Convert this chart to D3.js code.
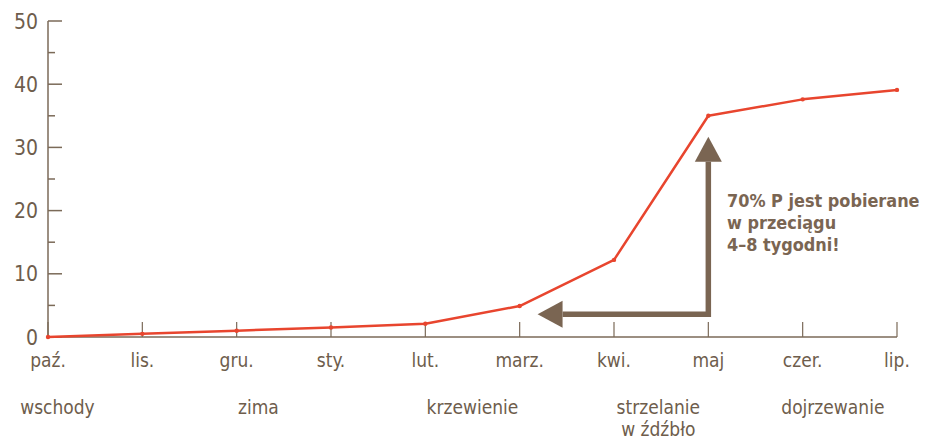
<!DOCTYPE html>
<html><head><meta charset="utf-8">
<script src="https://cdn.jsdelivr.net/npm/d3@7"></script>
<style>
html,body{margin:0;padding:0;background:#fff;}
svg{display:block;}
text{font-family:"Liberation Sans Narrow","DejaVu Sans Condensed","Roboto",sans-serif;}
</style></head>
<body><svg id="c" width="944" height="439"></svg>
<script>
const months = ["paź.","lis.","gru.","sty.","lut.","marz.","kwi.","maj","czer.","lip."];
const uptake = [0, 0.5, 1.0, 1.5, 2.1, 4.9, 12.2, 35.0, 37.6, 39.1];
const yTicks = [0, 10, 20, 30, 40, 50];
const yMinorTicks = [5, 15, 25, 35, 45];
const stages = [
  {lines:["wschody"], at:0.1},
  {lines:["zima"], at:2.23},
  {lines:["krzewienie"], at:4.5},
  {lines:["strzelanie","w źdźbło"], at:6.47},
  {lines:["dojrzewanie"], at:8.32}
];
const noteLines = ["70% P jest pobierane","w przeciągu","4–8 tygodni!"];
const arrowFrom = {month:7, value:3.6}; // corner of arrow in data units
const arrowUpTo = 31.7;
const arrowLeftTo = 5.19;

const axisCol = "#7b6a58", textCol = "#6e5d4c", lineCol = "#e8452e", arrowCol = "#7a6552";
const svg = d3.select("#c");
const x = d3.scaleLinear().domain([0, months.length-1]).range([48, 897]);
const y = d3.scaleLinear().domain([0, 50]).range([337, 21]);

// y axis
const yAxis = svg.append("g");
yAxis.append("line").attr("x1",48).attr("x2",48).attr("y1",y(50)).attr("y2",y(0)).attr("stroke",axisCol).attr("stroke-width",1.5);
yAxis.selectAll(".maj").data(yTicks).join("line").attr("x1",48).attr("x2",62).attr("y1",d=>y(d)).attr("y2",d=>y(d)).attr("stroke",axisCol).attr("stroke-width",1.5);
yAxis.selectAll(".min").data(yMinorTicks).join("line").attr("x1",48).attr("x2",55).attr("y1",d=>y(d)).attr("y2",d=>y(d)).attr("stroke",axisCol).attr("stroke-width",1.5);
yAxis.selectAll("text").data(yTicks).join("text").attr("x",38).attr("y",d=>y(d)).attr("dy","0.36em")
  .attr("text-anchor","end").attr("fill",textCol).attr("font-size",21).text(d=>d);

// x axis
const xAxis = svg.append("g");
xAxis.append("line").attr("x1",x(0)).attr("x2",x(months.length-1)).attr("y1",y(0)).attr("y2",y(0)).attr("stroke",axisCol).attr("stroke-width",1.5);
xAxis.selectAll(".t").data(months).join("line").attr("x1",(d,i)=>x(i)).attr("x2",(d,i)=>x(i)).attr("y1",y(0)-15).attr("y2",y(0)).attr("stroke",axisCol).attr("stroke-width",1.2);
xAxis.selectAll("text").data(months).join("text").attr("x",(d,i)=>x(i)).attr("y",367)
  .attr("text-anchor","middle").attr("fill",textCol).attr("font-size",19).text(d=>d);

// stages
stages.forEach(s=>{
  s.lines.forEach((l,j)=>{
    svg.append("text").attr("x",x(s.at)).attr("y",414+j*22).attr("text-anchor","middle")
      .attr("fill",textCol).attr("font-size",19).text(l);
  });
});

// line
const line = d3.line().x((d,i)=>x(i)).y(d=>y(d));
svg.append("path").datum(uptake).attr("d",line).attr("fill","none").attr("stroke",lineCol).attr("stroke-width",2.5).attr("stroke-linejoin","round");
svg.selectAll(".pt").data(uptake).join("circle").attr("cx",(d,i)=>x(i)).attr("cy",d=>y(d)).attr("r",2.2).attr("fill",lineCol);

// arrow
const cx = x(arrowFrom.month), cy = y(arrowFrom.value);
const topY = y(arrowUpTo), leftX = x(arrowLeftTo);
const hw = 13.5, hl = 25;
svg.append("path").attr("d",`M${leftX+hl},${cy} L${cx},${cy} L${cx},${topY+hl}`)
  .attr("fill","none").attr("stroke",arrowCol).attr("stroke-width",5.5);
svg.append("path").attr("d",`M${cx},${topY} L${cx+hw},${topY+hl} L${cx-hw},${topY+hl} Z`).attr("fill",arrowCol);
svg.append("path").attr("d",`M${leftX},${cy} L${leftX+hl},${cy-hw} L${leftX+hl},${cy+hw} Z`).attr("fill",arrowCol);

// note
noteLines.forEach((l,j)=>{
  svg.append("text").attr("x",727).attr("y",207+j*22).attr("fill",arrowCol)
    .attr("font-weight","bold").attr("font-family","'DejaVu Sans',sans-serif").attr("font-size",17.9).text(l);
});
</script></body></html>
